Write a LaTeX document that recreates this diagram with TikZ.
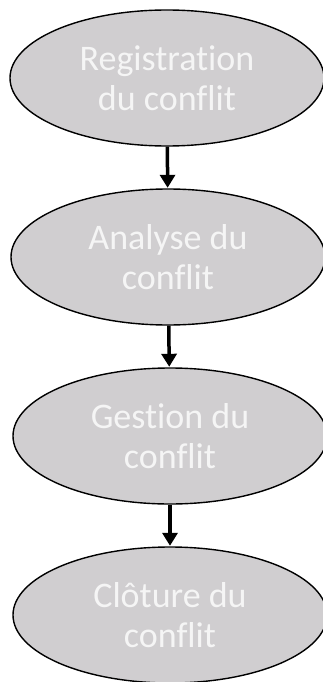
\documentclass[tikz,border=0pt]{standalone}
\usepackage{fontspec}
\setmainfont{Carlito}[Ligatures=NoCommon]
\usetikzlibrary{shapes.geometric,arrows.meta}
\definecolor{ovalfill}{RGB}{208,206,208}
\definecolor{ovaltext}{RGB}{245,245,245}
\tikzset{
  oval/.style={ellipse, draw=black, line width=1.4pt, fill=ovalfill,
    minimum width=314pt, minimum height=136pt, inner sep=0pt,
    text=ovaltext, align=center, font=\fontsize{36}{40}\selectfont},
  flow/.style={line width=3.5pt, -{Triangle[length=13pt,width=15pt]}, shorten >=0.5pt}
}
\begin{document}
\begin{tikzpicture}[x=1pt,y=-1pt]
\useasboundingbox (0,0) rectangle (322,682);
\node[oval] (e1) at (167,78) {Registration\\du conflit};
\node[oval] (e2) at (168,257) {Analyse du\\conflit};
\node[oval] (e3) at (170,436) {Gestion du\\conflit};
\node[oval] (e4) at (170,615) {Clôture du\\conflit};
\draw[flow] (e1) -- (e2);
\draw[flow] (e2) -- (e3);
\draw[flow] (e3) -- (e4);
\end{tikzpicture}
\end{document}
